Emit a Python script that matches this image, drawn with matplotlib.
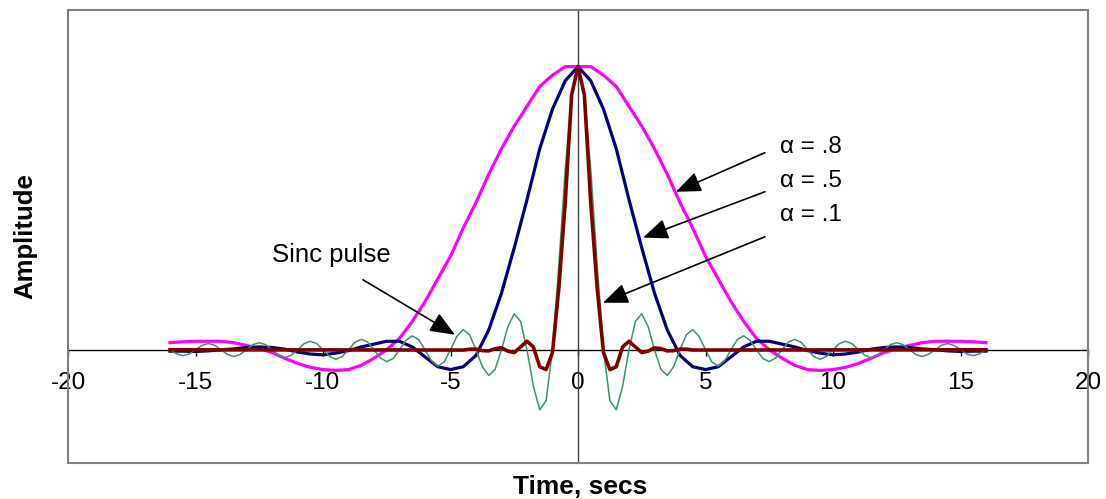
import numpy as np
import matplotlib
matplotlib.use("Agg")
import matplotlib.pyplot as plt
from matplotlib.patches import Rectangle

plt.rcParams['font.family'] = ['Liberation Sans', 'DejaVu Sans']
plt.rcParams['axes.unicode_minus'] = False

# ---------------- data ----------------
t_half_step = np.linspace(-16, 16, 65)      # 0.5 s sampling
t_quarter_step = np.linspace(-16, 16, 129)  # 0.25 s sampling

alpha_08 = [0.025, 0.028, 0.03, 0.03, 0.03, 0.025, 0.015, 0.005, -0.01, -0.03, -0.048, -0.062,
            -0.07, -0.073, -0.07, -0.055, -0.03, 0.0, 0.04, 0.10, 0.17, 0.25, 0.33, 0.43,
            0.52, 0.62, 0.71, 0.79, 0.86, 0.93, 0.97, 1.0,
            1.0,
            1.0, 0.97, 0.93, 0.86, 0.79, 0.71, 0.62, 0.52, 0.43, 0.33, 0.25, 0.17, 0.10,
            0.04, 0.0, -0.03, -0.055, -0.07, -0.073, -0.07, -0.062, -0.048, -0.03, -0.01,
            0.005, 0.015, 0.025, 0.03, 0.03, 0.03, 0.028, 0.025]

alpha_05 = [-0.005, -0.005, -0.006, -0.004, 0.0, 0.003, 0.008, 0.01, 0.008, 0.002, -0.008,
            -0.015, -0.018, -0.012, -0.003, 0.01, 0.02, 0.03, 0.03, 0.01, -0.025, -0.06,
            -0.07, -0.06, -0.02, 0.07, 0.20, 0.36, 0.53, 0.71, 0.85, 0.95,
            1.0,
            0.95, 0.85, 0.71, 0.53, 0.36, 0.20, 0.07, -0.02, -0.06, -0.07, -0.06, -0.025,
            0.01, 0.03, 0.03, 0.02, 0.01, -0.003, -0.012, -0.018, -0.015, -0.008, 0.002,
            0.008, 0.01, 0.008, 0.003, 0.0, -0.004, -0.006, -0.005, -0.005]

t_alpha_01 = [-16, -4.5, -4.25, -4.0, -3.75, -3.5, -3.25, -3.0, -2.75, -2.5, -2.25, -2.0,
              -1.75, -1.5, -1.25, -1.0, -0.75, -0.5, -0.25, 0.0, 0.25, 0.5, 0.75, 1.0,
              1.25, 1.5, 1.75, 2.0, 2.25, 2.5, 2.75, 3.0, 3.25, 3.5, 3.75, 4.0, 4.25, 4.5, 16]
alpha_01 = [0.0, -0.001, 0.002, 0.002, -0.003, -0.004, 0.004, 0.007, -0.005, -0.01, 0.01, 0.03,
            0.01, -0.06, -0.07, -0.01, 0.22, 0.52, 0.90, 1.0, 0.90, 0.52, 0.22, -0.01,
            -0.07, -0.06, 0.01, 0.03, 0.01, -0.01, -0.005, 0.007, 0.004, -0.004, -0.003,
            0.002, 0.002, -0.001, 0.0]

sinc_pulse = [0.0, -0.014, -0.021, -0.015, 0.0, 0.015, 0.022, 0.016,
              0.0, -0.016, -0.024, -0.017, 0.0, 0.018, 0.025, 0.018,
              0.0, -0.019, -0.028, -0.020, 0.0, 0.021, 0.030, 0.022,
              0.0, -0.023, -0.034, -0.024, 0.0, 0.026, 0.037, 0.027,
              0.0, -0.029, -0.042, -0.031, 0.0, 0.033, 0.049, 0.036,
              0.0, -0.039, -0.058, -0.043, 0.0, 0.047, 0.071, 0.053,
              0.0, -0.060, -0.091, -0.069, 0.0, 0.082, 0.127, 0.100,
              0.0, -0.129, -0.212, -0.180, 0.0, 0.300, 0.637, 0.900,
              1.0,
              0.900, 0.637, 0.300, 0.0, -0.180, -0.212, -0.129, 0.0,
              0.100, 0.127, 0.082, 0.0, -0.069, -0.091, -0.060, 0.0,
              0.053, 0.071, 0.047, 0.0, -0.043, -0.058, -0.039, 0.0,
              0.036, 0.049, 0.033, 0.0, -0.031, -0.042, -0.029, 0.0,
              0.027, 0.037, 0.026, 0.0, -0.024, -0.034, -0.023, 0.0,
              0.022, 0.030, 0.021, 0.0, -0.020, -0.028, -0.019, 0.0,
              0.018, 0.025, 0.018, 0.0, -0.017, -0.024, -0.016, 0.0,
              0.016, 0.022, 0.015, 0.0, -0.015, -0.021, -0.014, 0.0]

x_ticks = [-20, -15, -10, -5, 0, 5, 10, 15, 20]
x_tick_labels = ['-20', '-15', '-10', '-5', '0', '5', '10', '15', '20']

labels = ['\u03b1 = .8', '\u03b1 = .5', '\u03b1 = .1']

# ---------------- figure ----------------
W, H = 1106, 499
fig = plt.figure(figsize=(W / 100, H / 100), dpi=100)
ax = fig.add_axes([68 / W, 36 / H, 1020 / W, 453 / H])
ax.set_xlim(-20, 20)
ax.set_ylim(-0.4, 1.2)

ax.plot(t_half_step, alpha_08, color='#FF00FF', lw=2.3, zorder=3)
ax.plot(t_half_step, alpha_05, color='#000080', lw=2.3, zorder=3)
ax.plot(t_quarter_step, sinc_pulse, color='#339966', lw=1.1, zorder=3)
ax.plot(t_alpha_01, alpha_01, color='#800000', lw=2.6, zorder=4)

# axes crossing at zero
for s in ['top', 'right']:
    ax.spines[s].set_visible(False)
ax.spines['left'].set_position(('data', 0))
ax.spines['bottom'].set_position(('data', 0))
ax.spines['left'].set_color('#404040')
ax.spines['bottom'].set_color('black')
ax.spines['left'].set_linewidth(1.0)
ax.spines['bottom'].set_linewidth(1.0)
ax.add_patch(Rectangle((0, 0), 1, 1, transform=ax.transAxes, fill=False,
                       edgecolor='#808080', lw=1.5, clip_on=False, zorder=5))

ax.set_xticks(x_ticks)
ax.set_xticklabels(x_tick_labels)
ax.set_yticks([])
ax.tick_params(axis='x', direction='out', length=4, width=1, pad=12, labelsize=17.5)

# annotations
arrow_kw = dict(arrowstyle='-|>,head_length=1.1,head_width=0.45', color='black',
                lw=1.2, mutation_scale=14, shrinkA=0, shrinkB=0)
label_pos = [(7.92, 0.717), (7.92, 0.597), (7.92, 0.477)]
arrow_start = [(7.33, 0.696), (7.33, 0.558), (7.33, 0.399)]
arrow_tip = [(3.84, 0.558), (2.55, 0.396), (0.98, 0.166)]
for lab, lp, st, tp in zip(labels, label_pos, arrow_start, arrow_tip):
    ax.text(lp[0], lp[1], lab, fontsize=17.5, ha='left', va='center', zorder=6)
    ax.annotate('', xy=tp, xytext=st, arrowprops=arrow_kw, zorder=6)

ax.text(-12.0, 0.336, 'Sinc pulse', fontsize=18.5, ha='left', va='center', zorder=6)
ax.annotate('', xy=(-4.82, 0.053), xytext=(-8.43, 0.247), arrowprops=arrow_kw, zorder=6)

fig.text(25 / W, 1 - 236 / H, 'Amplitude', rotation=90, ha='center', va='center',
         fontsize=18.5, fontweight='bold')
fig.text(580 / W, 1 - 487 / H, 'Time, secs', ha='center', va='center',
         fontsize=19, fontweight='bold')

fig.savefig('out.png', dpi=100)
